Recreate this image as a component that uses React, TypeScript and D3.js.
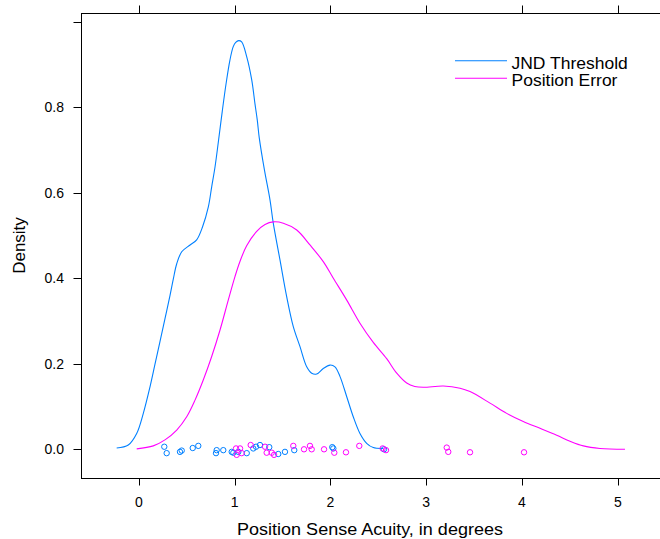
import React from "react";
import * as d3 from "d3";

// Kernel density estimate curves (x in degrees, y = density)
const jndX = [-0.232, -0.111, -0.023, 0.046, 0.116, 0.168, 0.22, 0.273, 0.325, 0.359, 0.395, 0.447, 0.534, 0.603, 0.664, 0.725, 0.76, 0.795, 0.83, 0.87, 0.91, 0.95, 0.985, 1.011, 1.042, 1.073, 1.126, 1.178, 1.212, 1.236, 1.257, 1.311, 1.369, 1.403, 1.473, 1.543, 1.612, 1.682, 1.752, 1.804, 1.856, 1.925, 1.995, 2.047, 2.1, 2.17, 2.238, 2.308, 2.378, 2.447, 2.552];
const jndY = [0.003, 0.01, 0.037, 0.084, 0.146, 0.199, 0.252, 0.306, 0.36, 0.398, 0.434, 0.462, 0.478, 0.49, 0.52, 0.567, 0.614, 0.661, 0.72, 0.79, 0.855, 0.91, 0.942, 0.952, 0.956, 0.953, 0.918, 0.864, 0.808, 0.77, 0.728, 0.653, 0.583, 0.529, 0.443, 0.357, 0.287, 0.24, 0.193, 0.178, 0.176, 0.189, 0.197, 0.193, 0.17, 0.123, 0.076, 0.037, 0.014, 0.004, 0.002];

const posX = [-0.023, 0.15, 0.272, 0.395, 0.499, 0.586, 0.672, 0.76, 0.847, 0.933, 1.003, 1.056, 1.125, 1.23, 1.317, 1.403, 1.508, 1.648, 1.786, 1.925, 2.03, 2.17, 2.308, 2.447, 2.587, 2.692, 2.796, 2.88, 2.969, 3.178, 3.353, 3.457, 3.666, 3.84, 4.013, 4.188, 4.362, 4.501, 4.64, 4.814, 5.075];
const posY = [0.001, 0.008, 0.022, 0.045, 0.076, 0.115, 0.162, 0.217, 0.279, 0.349, 0.404, 0.44, 0.476, 0.51, 0.526, 0.532, 0.529, 0.513, 0.478, 0.439, 0.4, 0.349, 0.295, 0.25, 0.212, 0.178, 0.155, 0.147, 0.145, 0.148, 0.143, 0.135, 0.108, 0.084, 0.065, 0.049, 0.033, 0.019, 0.008, 0.002, 0.0];

// Raw observations shown as a jittered rug along density 0
const jndRugX = [0.265, 0.29, 0.429, 0.447, 0.562, 0.62, 0.805, 0.812, 0.881, 0.969, 0.986, 1.038, 1.126, 1.194, 1.223, 1.264, 1.361, 1.455, 1.525, 1.622, 2.019, 2.03, 2.559];
const jndRugJitter = [0.006, -0.009, -0.006, -0.003, 0.003, 0.008, -0.009, -0.002, -0.002, -0.006, -0.008, -0.006, -0.009, 0.002, 0.006, 0.01, 0.005, -0.011, -0.006, -0.002, 0.005, 0.002, 0.0];

const posRugX = [1.014, 1.021, 1.056, 1.073, 1.167, 1.317, 1.334, 1.387, 1.411, 1.612, 1.724, 1.786, 1.804, 1.933, 2.04, 2.162, 2.301, 2.545, 2.58, 3.214, 3.23, 3.457, 4.021];
const posRugJitter = [0.002, -0.013, 0.002, -0.009, 0.01, 0.006, -0.008, -0.008, -0.013, 0.008, 0.0, 0.008, 0.0, 0.0, -0.008, -0.007, 0.008, 0.002, -0.002, 0.004, -0.006, -0.007, -0.007];

const xTicks = [0, 1, 2, 3, 4, 5];
const yTicks = [0, 0.2, 0.4, 0.6, 0.8, 1.0];
const yTickLabels = ["0.0", "0.2", "0.4", "0.6", "0.8", ""];

const seriesNames = ["JND Threshold", "Position Error"];
const seriesColors = ["#0080ff", "#ff00ff"];

const W = 660;
const H = 539;
const panel = { left: 81.5, top: 13.5, right: 700, bottom: 478.5 };

export default function App() {
  const x = d3.scaleLinear().domain([0, 5]).range([138.9, 617.8]);
  const y = d3.scaleLinear().domain([0, 0.8]).range([449.3, 107.3]);

  const line = d3
    .line<[number, number]>()
    .x((d) => x(d[0]))
    .y((d) => y(d[1]))
    .curve(d3.curveCatmullRom.alpha(0.5));

  const curves = [
    jndX.map((v, i) => [v, jndY[i]] as [number, number]),
    posX.map((v, i) => [v, posY[i]] as [number, number]),
  ];
  const rugs = [
    jndRugX.map((v, i) => [v, jndRugJitter[i]]),
    posRugX.map((v, i) => [v, posRugJitter[i]]),
  ];

  const font = "'Liberation Sans', Arial, sans-serif";
  const stretch = 1.06;

  return (
    <svg
      width={W}
      height={H}
      style={{ position: "absolute", left: 0, top: 0, background: "#fff" }}
      fontFamily={font}
    >
      <rect x={0} y={0} width={W} height={H} fill="#fff" />

      {/* density curves */}
      {curves.map((c, i) => (
        <path key={"c" + i} d={line(c) || ""} fill="none" stroke={seriesColors[i]} strokeWidth={1.1} />
      ))}

      {/* rug points */}
      {rugs.map((r, i) =>
        r.map((p, j) => (
          <circle
            key={`r${i}-${j}`}
            cx={x(p[0])}
            cy={y(p[1])}
            r={2.7}
            fill="none"
            stroke={seriesColors[i]}
            strokeWidth={1}
          />
        ))
      )}

      {/* panel box */}
      <rect
        x={panel.left}
        y={panel.top}
        width={panel.right - panel.left}
        height={panel.bottom - panel.top}
        fill="none"
        stroke="#000"
        strokeWidth={1}
      />

      {/* x ticks bottom and top */}
      {xTicks.map((t) => (
        <g key={"xt" + t}>
          <line x1={Math.round(x(t)) + 0.5} x2={Math.round(x(t)) + 0.5} y1={panel.bottom} y2={panel.bottom + 7} stroke="#000" />
          <line x1={Math.round(x(t)) + 0.5} x2={Math.round(x(t)) + 0.5} y1={panel.top} y2={panel.top - 8} stroke="#000" />
          <text x={x(t)} y={506.5} fontSize={14} textAnchor="middle" fill="#000">
            {t}
          </text>
        </g>
      ))}

      {/* y ticks left */}
      {yTicks.map((t, i) => (
        <g key={"yt" + t}>
          <line x1={panel.left - 8} x2={panel.left} y1={Math.round(y(t)) + 0.5} y2={Math.round(y(t)) + 0.5} stroke="#000" />
          <text x={64} y={y(t)} dy="0.35em" fontSize={14} textAnchor="end" fill="#000">
            {yTickLabels[i]}
          </text>
        </g>
      ))}

      {/* axis titles */}
      <text transform={`translate(370,535) scale(${stretch},1)`} fontSize={17} textAnchor="middle" fill="#000">
        Position Sense Acuity, in degrees
      </text>
      <text transform="translate(25,245.5) rotate(-90)" fontSize={17} textAnchor="middle" fill="#000">
        Density
      </text>

      {/* legend */}
      {seriesNames.map((name, i) => (
        <g key={"lg" + i}>
          <line x1={455} x2={507} y1={60.7 + i * 17.6} y2={60.7 + i * 17.6} stroke={seriesColors[i]} strokeWidth={1.1} />
          <text transform={`translate(511.5,${69.3 + i * 17}) scale(${stretch},1)`} fontSize={16.5} fill="#000">
            {name}
          </text>
        </g>
      ))}
    </svg>
  );
}
